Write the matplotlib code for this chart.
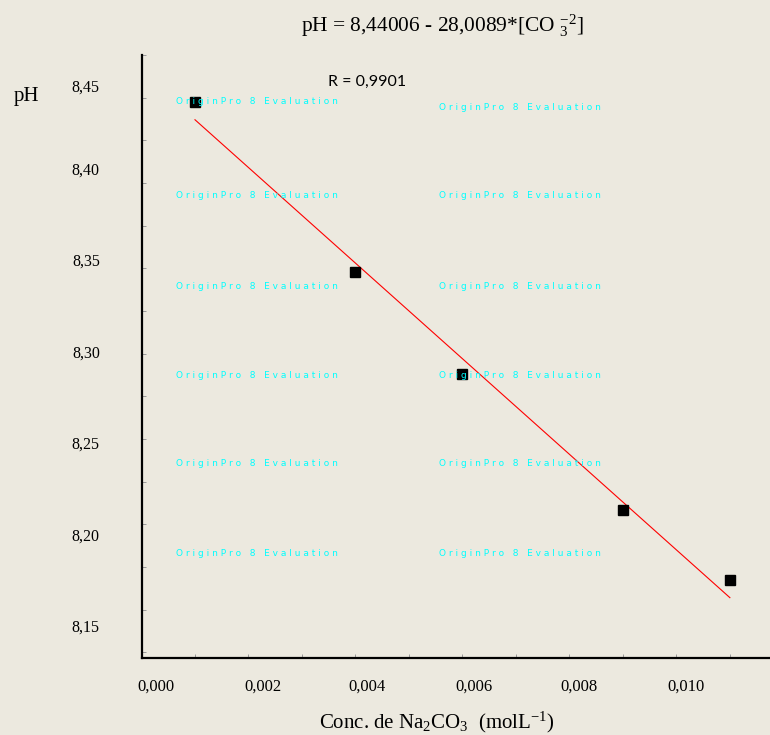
import matplotlib
matplotlib.use("Agg")
import matplotlib.pyplot as plt
from matplotlib.ticker import MultipleLocator
from matplotlib.transforms import ScaledTranslation
import numpy as np

plt.rcParams['font.family'] = ['Liberation Serif', 'DejaVu Serif']
plt.rcParams['mathtext.fontset'] = 'custom'
plt.rcParams['mathtext.rm'] = 'Liberation Serif'
plt.rcParams['mathtext.it'] = 'Liberation Serif:italic'

# ---- data ----
conc = [0.001, 0.004, 0.006, 0.009, 0.011]          # mol/L Na2CO3
ph = [8.4226, 8.3231, 8.2630, 8.1831, 8.1424]
fit_intercept = 8.44006
fit_slope = -28.0089
r_value = "0,9901"

x_ticks = [0.000, 0.002, 0.004, 0.006, 0.008, 0.010]
x_ticklabels = ["0,000", "0,002", "0,004", "0,006", "0,008", "0,010"]
y_ticks = [8.15, 8.20, 8.25, 8.30, 8.35, 8.40, 8.45]
y_ticklabels = ["8,15", "8,20", "8,25", "8,30", "8,35", "8,40", "8,45"]

# label placement quirks of the original (pixel shifts)
x_label_shift_px = [14.5, 14, 12, 11.5, 9.5, 9.5]
y_label_shift_px = [58.9, 52.9, 46.0, 41.0, 34.0, 28.2, 30.2]

bg = '#ECE9DF'
W, H = 770, 735
fig = plt.figure(figsize=(W / 100, H / 100), dpi=100, facecolor=bg)
ax = fig.add_axes([141.5 / W, 1 - 658 / H, (W - 141.5) / W, (658 - 55) / H])
ax.set_facecolor(bg)

ax.set_xlim(0, 0.01175)
ax.set_ylim(8.0966, 8.4470)

# fitted line
xf = np.array([conc[0], conc[-1]])
ax.plot(xf, fit_intercept + fit_slope * xf, color='#FF0000', lw=0.8, zorder=2)
# data points
ax.plot(conc, ph, linestyle='none', marker='s', markersize=7.5,
        color='black', zorder=3)

for s in ['top', 'right']:
    ax.spines[s].set_visible(False)
for s in ['left', 'bottom']:
    ax.spines[s].set_linewidth(1.6)
    ax.spines[s].set_color('black')

ax.set_xticks(x_ticks)
ax.set_xticklabels(x_ticklabels)
ax.set_yticks(y_ticks)
ax.set_yticklabels(y_ticklabels)
ax.xaxis.set_minor_locator(MultipleLocator(0.001))
ax.yaxis.set_minor_locator(MultipleLocator(0.025))
ax.tick_params(which='both', direction='in', length=3, width=0.7, color='#999999')
ax.tick_params(axis='x', which='major', labelsize=12, pad=15)
ax.tick_params(axis='y', which='major', labelsize=11.5, pad=30)

for lbl, dx in zip(ax.get_xticklabels(), x_label_shift_px):
    lbl.set_transform(lbl.get_transform() + ScaledTranslation(dx / 100, 0, fig.dpi_scale_trans))
for lbl, dy in zip(ax.get_yticklabels(), y_label_shift_px):
    lbl.set_transform(lbl.get_transform() + ScaledTranslation(0, -dy / 100, fig.dpi_scale_trans))

# axis labels and title
ax.text((26 - 141.5) / (W - 141.5), (658 - 96) / 603, "pH", transform=ax.transAxes,
        ha='center', va='center', fontsize=15)
ax.text((437 - 141.5) / (W - 141.5), (658 - 722) / 603,
        r"Conc. de Na$_2$CO$_3$  (molL$^{-1}$)", transform=ax.transAxes,
        ha='center', va='center', fontsize=15)
ax.text((442 - 141.5) / (W - 141.5), (658 - 26) / 603,
        r"pH = 8,44006 - 28,0089*[CO $^{-2}_{3}$]", transform=ax.transAxes,
        ha='center', va='center', fontsize=15.4)
ax.text((367 - 141.5) / (W - 141.5), (658 - 82) / 603, "R = " + r_value,
        transform=ax.transAxes, ha='center', va='center', fontsize=11.5,
        family=['Lato', 'DejaVu Sans'])

# evaluation watermarks
wm = "O r i g i n P r o   8   E v a l u a t i o n"
wm_rows = [102, 196, 286, 375, 464, 553]
for i, yy in enumerate(wm_rows):
    fig.text(176 / W, 1 - yy / H, wm, color='#00FFFF', fontsize=6.5,
             family='DejaVu Sans', ha='left', va='center', zorder=1)
    y2 = 107 if i == 0 else yy
    fig.text(439 / W, 1 - y2 / H, wm, color='#00FFFF', fontsize=6.5,
             family='DejaVu Sans', ha='left', va='center', zorder=1)

fig.savefig("out.png", dpi=100, facecolor=bg)
